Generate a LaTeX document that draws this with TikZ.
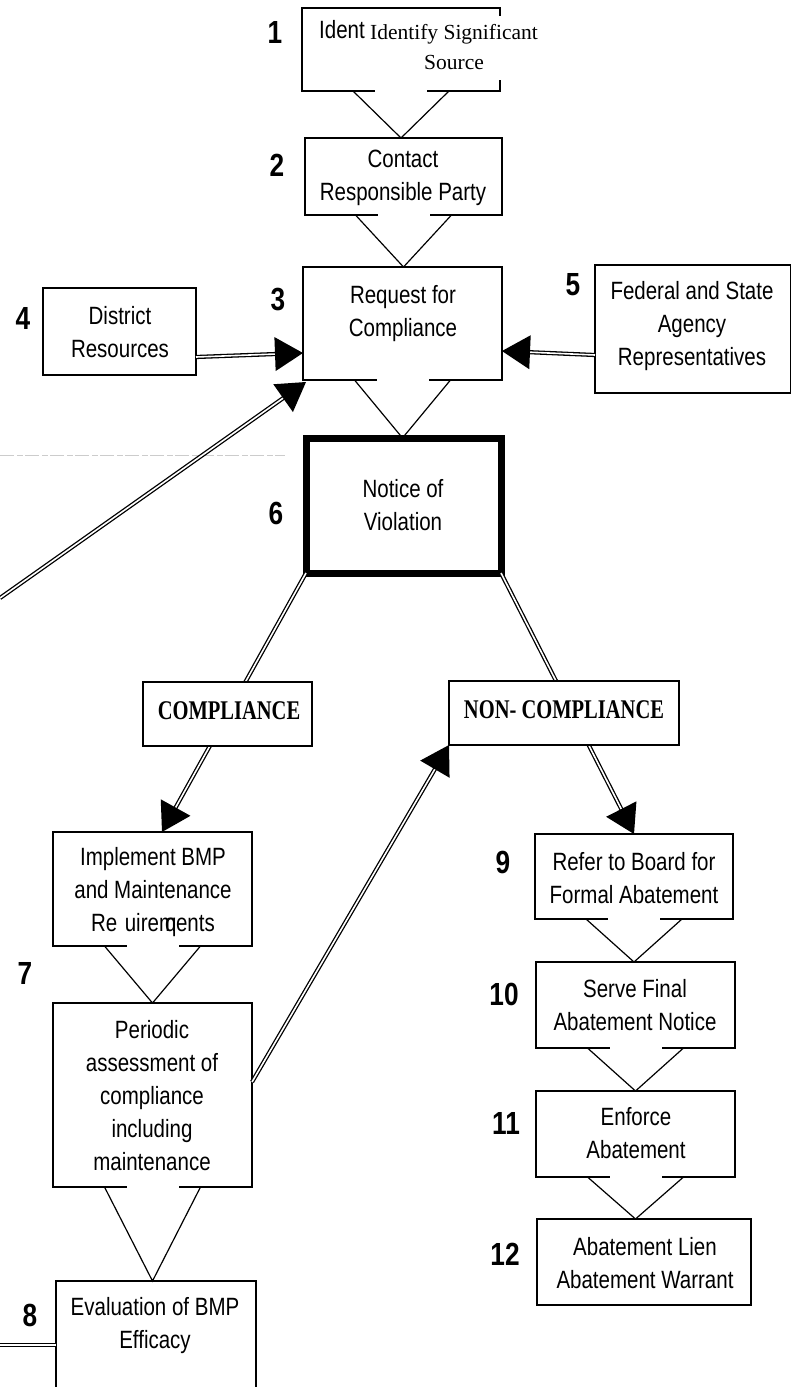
\documentclass[tikz,border=0pt]{standalone}
\usepackage{fontspec}
\setmainfont{Liberation Sans}[FakeStretch=0.82]
\newfontfamily\serifn{Liberation Serif}
\newfontfamily\serifc{Liberation Serif}[FakeStretch=0.76]
\newfontfamily\numfont{Liberation Sans}[FakeStretch=0.82]
\usetikzlibrary{calc}
\tikzset{
  box/.style={draw, line width=1.3pt, inner sep=0pt, outer sep=0pt, fill=white},
  thickbox/.style={box, line width=7pt},
  txt/.style={align=center, inner sep=0pt, font=\fontsize{25}{33}\selectfont},
  num/.style={inner sep=0pt, font=\numfont\bfseries\fontsize{32}{32}\selectfont},
  lab/.style={box, font=\serifc\bfseries\fontsize{27}{27}\selectfont},
  dbl/.style={double, double distance=1.6pt, line width=1.3pt},
  vline/.style={line width=1.2pt, line join=miter},
}
\newcommand{\mkbox}[6][box]{\node[#1, minimum width={#4-#2}, minimum height={#5-#3}] (#6) at ({(#2+#4)/2},{(#3+#5)/2}) {};}
\newcommand{\vcon}[2]{%
  \fill[white] ($(#1.south)+(-26,-1.2)$) rectangle ($(#1.south)+(26,1.2)$);
  \draw[vline] ($(#1.south)+(-48,0)$) -- (#1.south |- #2.north) -- ($(#1.south)+(48,0)$);}
\newcommand{\dblarrow}[2]{%
  \draw[dbl] (#1) -- ($(#2)!22pt!(#1)$);
  \fill (#2) -- ($(#2)!28pt!(#1)!17pt!90:(#1)$) -- ($(#2)!28pt!(#1)!17pt!-90:(#1)$) -- cycle;}
\begin{document}
\begin{tikzpicture}[x=1pt,y=-1pt]
\fill[white] (0,0) rectangle (792,1387);
\clip (0,0) rectangle (792,1387);
% boxes
\mkbox{302}{8}{500}{91}{b1}
\mkbox{305}{138}{502}{215}{b2}
\mkbox{303}{267}{502}{380}{b3}
\mkbox{43}{288}{196}{375}{b4}
\mkbox{595}{265}{790.5}{393}{b5}
\mkbox[thickbox]{306}{438}{501}{573}{b6}
\mkbox{53}{832}{252}{946}{b7a}
\mkbox{53}{1003}{252}{1187}{b7b}
\mkbox{56}{1281}{256}{1400}{b8}
\mkbox{535}{834}{733}{919}{b9}
\mkbox{536}{962}{735}{1048}{b10}
\mkbox{536}{1091}{735}{1177}{b11}
\mkbox{537}{1219}{751}{1305}{b12}
% faint scan line
\draw[gray!40, line width=0.7pt, dash pattern=on 14pt off 3pt on 6pt off 2pt] (0,455) -- (285,455);
% V connectors
\vcon{b1}{b2}
\vcon{b2}{b3}
\vcon{b3}{b6}
\vcon{b7a}{b7b}
\vcon{b7b}{b8}
\vcon{b9}{b10}
\vcon{b10}{b11}
\vcon{b11}{b12}
% branch arrows
\coordinate (a4t) at ($(b7a.north)+(9.5,0)$);
\dblarrow{b6.south west}{a4t}
\dblarrow{b6.south east}{b9.north}
% label boxes
\mkbox[lab]{143}{682}{312}{746}{comp}
\mkbox[lab]{449}{681}{679}{745}{nc}
\node[inner sep=0pt, font=\serifc\bfseries\fontsize{27}{27}\selectfont] (tcomp) at (229,711) {COMPLIANCE};
\node[inner sep=0pt, font=\serifc\bfseries\fontsize{27}{27}\selectfont] (tnc) at (564,710) {NON- COMPLIANCE};
% other arrows
\coordinate (a1s) at ($(b4.south east)+(0,-18)$);
\coordinate (a1t) at ($(b3.south west)+(0,-27)$);
\coordinate (a2s) at ($(b5.south west)+(0,-38)$);
\coordinate (a2t) at ($(b3.south east)+(0,-29)$);
\coordinate (a3s) at (0,598);
\coordinate (a3t) at ($(b3.south west)+(3,2)$);
\coordinate (a6s) at ($(b7b.north east)+(0,79)$);
\coordinate (l8) at (0,1345);
\dblarrow{a1s}{a1t}
\dblarrow{a2s}{a2t}
\dblarrow{a3s}{a3t}
\dblarrow{a6s}{nc.south west}
\draw[dbl] (l8) -- (l8 -| b8.west);
% box 1 overlapping texts
\node[txt, anchor=base west] (t1a) at (319,38) {Identify};
\fill[white] (366,16) rectangle (548,80);
\node[align=center, inner sep=0pt, font=\serifn\fontsize{21.5}{30}\selectfont] (t1) at (454,47) {Identify Significant\\Source};
% texts
\node[txt] (t2) at (403,178) {Contact\\Responsible Party};
\node[txt] (t3) at (403,314) {Request for\\Compliance};
\node[txt] (t4) at (120,332) {District\\Resources};
\node[txt] (t5) at (692,326) {Federal and State\\Agency\\Representatives};
\node[txt] (t6) at (403,505) {Notice of\\Violation};
\node[txt] (t7a) at (153,892) {Implement BMP\\and Maintenance\\Re\hspace{0.3em}uire\makebox[0pt][l]{\hspace{6pt}q}m{}ents};
\node[txt] (t7b) at (152,1096) {Periodic\\assessment of\\compliance\\including\\maintenance};
\node[txt] (t8) at (155,1326) {Evaluation of BMP\\Efficacy};
\node[txt] (t9) at (634,878) {Refer to Board for\\Formal Abatement};
\node[txt] (t10) at (635,1005) {Serve Final\\Abatement Notice};
\node[txt] (t11) at (636,1133) {Enforce\\Abatement};
\node[txt] (t12) at (645,1263) {Abatement Lien\\Abatement Warrant};
% numbers
\node[num] (n1) at (275,32) {1};
\node[num] (n2) at (277,165) {2};
\node[num] (n3) at (278,300) {3};
\node[num] (n4) at (23,318) {4};
\node[num] (n5) at (573,285) {5};
\node[num] (n6) at (276,513) {6};
\node[num] (n7) at (25,973) {7};
\node[num] (n8) at (30,1315) {8};
\node[num] (n9) at (503,862) {9};
\node[num] (n10) at (504,994) {10};
\node[num] (n11) at (506,1123) {11};
\node[num] (n12) at (505,1254) {12};
\end{tikzpicture}
\end{document}
